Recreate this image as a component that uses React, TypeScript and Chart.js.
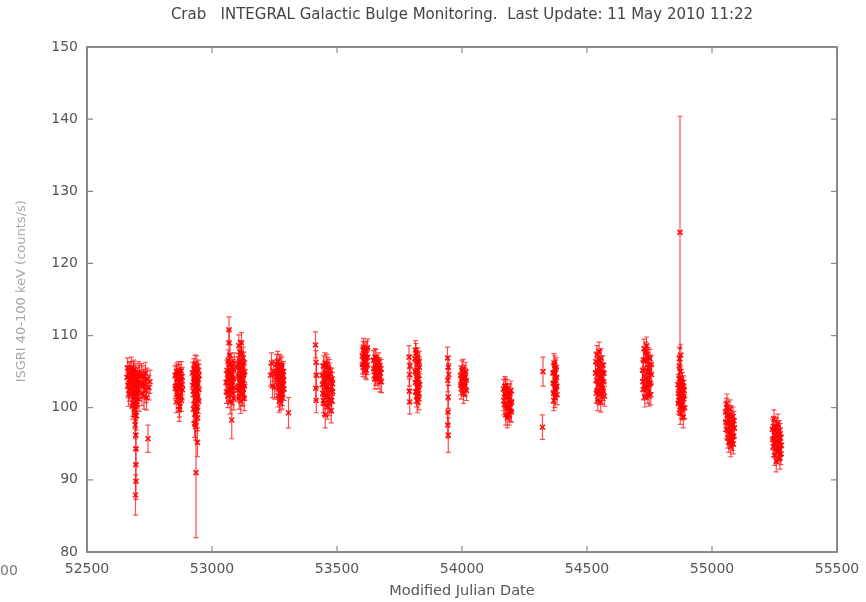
import React, { useEffect, useRef } from "react";
import { Chart, registerables } from "chart.js";

Chart.register(...registerables);

// [MJD, rate (counts/s), 1-sigma error]
type Obs = [number, number, number];

const TITLE = "Crab   INTEGRAL Galactic Bulge Monitoring.  Last Update: 11 May 2010 11:22";
const X_TITLE = "Modified Julian Date";
const Y_TITLE = "    ISGRI 40-100 keV (counts/s)";
const X_MIN = 52500;
const X_MAX = 55500;
const X_STEP = 500;
const Y_MIN = 80;
const Y_MAX = 150;
const Y_STEP = 10;
const STRAY_LABEL = "00";

const visit01: Obs[] = [
  [52660, 104.2, 1.6], [52664, 103.1, 1.7], [52668, 104.8, 1.5], [52670, 102.5, 1.6], [52673, 105.0, 1.4],
  [52675, 103.6, 1.5], [52678, 101.8, 1.7], [52680, 104.1, 1.5], [52682, 102.9, 1.6], [52684, 100.6, 1.8],
  [52686, 103.8, 1.5], [52688, 105.2, 1.4], [52689, 101.5, 1.7], [52691, 99.8, 1.9], [52692, 103.0, 1.6],
  [52694, 102.2, 1.6], [52695, 104.6, 1.5], [52696, 100.9, 1.8], [52697, 98.9, 2.0], [52698, 103.4, 1.5],
  [52700, 101.9, 1.7], [52702, 104.0, 1.6], [52704, 102.6, 1.6], [52706, 103.5, 1.5], [52708, 101.2, 1.7],
  [52710, 104.4, 1.5], [52693, 97.6, 1.9], [52695, 96.2, 2.0], [52696, 94.3, 2.1], [52695, 92.1, 2.4],
  [52696, 89.8, 2.5], [52694, 87.9, 2.8],
  [52662, 105.5, 1.4], [52666, 101.9, 1.7], [52672, 103.9, 1.5], [52677, 105.6, 1.4], [52681, 100.2, 1.8],
  [52685, 104.9, 1.5], [52687, 102.1, 1.6], [52690, 104.3, 1.5], [52699, 100.4, 1.8], [52703, 102.9, 1.6],
  [52707, 104.9, 1.5], [52692, 99.0, 1.9], [52694, 100.2, 1.8],
];
const visit02: Obs[] = [
  [52716, 103.4, 1.6], [52720, 102.0, 1.7], [52724, 104.3, 1.5], [52728, 101.6, 1.8], [52732, 103.7, 1.6],
  [52736, 102.4, 1.7], [52740, 104.0, 1.5], [52748, 102.8, 1.7], [52744, 95.7, 1.9],
  [52718, 104.6, 1.5], [52726, 103.0, 1.6], [52734, 104.8, 1.5], [52738, 101.4, 1.7], [52752, 103.6, 1.6],
];
const visit03: Obs[] = [
  [52852, 104.5, 1.3], [52855, 103.0, 1.4], [52858, 105.0, 1.2], [52861, 102.2, 1.4], [52864, 104.0, 1.3],
  [52866, 101.5, 1.5], [52868, 103.6, 1.3], [52871, 104.8, 1.2], [52873, 102.8, 1.4], [52876, 103.9, 1.3],
  [52878, 101.0, 1.5], [52880, 104.3, 1.3], [52882, 102.5, 1.4], [52870, 100.2, 1.5],
  [52853, 102.7, 1.4], [52857, 100.8, 1.5], [52860, 104.6, 1.3], [52863, 103.1, 1.4], [52867, 105.2, 1.2],
  [52874, 101.8, 1.4], [52877, 105.1, 1.3], [52881, 103.2, 1.4], [52869, 99.7, 1.6],
];
const visit04: Obs[] = [
  [52922, 104.8, 1.5], [52925, 102.3, 1.6], [52927, 105.4, 1.4], [52929, 100.5, 1.7], [52931, 103.5, 1.5],
  [52933, 99.2, 1.8], [52935, 104.1, 1.5], [52937, 101.4, 1.6], [52939, 105.8, 1.4], [52941, 102.8, 1.6],
  [52943, 98.6, 1.8], [52945, 103.9, 1.5], [52947, 100.9, 1.7], [52949, 104.5, 1.5], [52930, 97.8, 1.9],
  [52936, 101.9, 1.6], [52940, 103.0, 1.5], [52932, 106.0, 1.3], [52938, 99.6, 1.8], [52942, 95.2, 2.0],
  [52936, 91.0, 9.0],
  [52923, 103.1, 1.6], [52926, 99.8, 1.8], [52928, 104.0, 1.5], [52932, 102.0, 1.6], [52934, 105.0, 1.4],
  [52938, 103.3, 1.5], [52944, 101.6, 1.7], [52946, 105.2, 1.4], [52948, 102.5, 1.6], [52934, 97.4, 1.9],
  [52940, 100.0, 1.8],
];
const visit05: Obs[] = [
  [53056, 103.5, 1.5], [53060, 105.2, 1.4], [53063, 101.6, 1.6], [53066, 104.3, 1.5], [53068, 110.8, 1.8],
  [53068, 109.0, 1.8], [53069, 102.5, 1.6], [53071, 106.0, 1.4], [53073, 100.8, 1.7], [53075, 104.8, 1.5],
  [53077, 103.0, 1.5], [53079, 98.3, 2.6], [53080, 105.6, 1.4], [53083, 102.0, 1.6], [53085, 104.0, 1.5],
  [53087, 101.3, 1.6], [53089, 106.2, 1.4],
  [53058, 102.2, 1.6], [53062, 104.6, 1.5], [53065, 106.6, 1.4], [53070, 103.9, 1.5], [53074, 102.4, 1.6],
  [53078, 105.0, 1.5], [53082, 103.6, 1.5], [53086, 105.3, 1.4], [53088, 102.8, 1.6], [53072, 107.3, 1.4],
];
const visit06: Obs[] = [
  [53102, 105.5, 1.5], [53105, 103.0, 1.6], [53107, 108.6, 1.5], [53109, 101.5, 1.7], [53111, 106.4, 1.5],
  [53113, 104.0, 1.6], [53115, 100.9, 1.7], [53117, 107.5, 1.5], [53119, 103.4, 1.6], [53121, 105.8, 1.5],
  [53123, 102.0, 1.7], [53125, 106.9, 1.5], [53127, 104.6, 1.6], [53129, 101.3, 1.7], [53131, 105.0, 1.5],
  [53118, 109.0, 1.4],
  [53103, 102.4, 1.6], [53106, 106.0, 1.5], [53108, 104.5, 1.6], [53110, 102.8, 1.7], [53112, 107.8, 1.5],
  [53114, 105.2, 1.6], [53116, 103.7, 1.6], [53120, 101.9, 1.7], [53122, 104.4, 1.6], [53124, 103.4, 1.6],
  [53126, 102.6, 1.6], [53128, 106.2, 1.5], [53130, 103.0, 1.6],
];
const visit07: Obs[] = [
  [53234, 104.5, 1.5], [53238, 106.2, 1.4], [53242, 103.0, 1.6], [53246, 105.1, 1.5], [53250, 102.8, 1.6],
  [53254, 104.8, 1.5], [53258, 106.0, 1.4], [53262, 103.8, 1.5], [53264, 101.7, 1.6], [53266, 105.4, 1.4],
  [53268, 102.9, 1.5], [53270, 104.6, 1.5], [53272, 101.2, 1.6], [53274, 103.5, 1.5], [53276, 105.8, 1.4],
  [53278, 102.4, 1.6], [53280, 104.2, 1.5], [53282, 101.9, 1.6], [53284, 103.1, 1.5], [53286, 105.0, 1.4],
  [53288, 102.6, 1.6], [53306, 99.3, 2.1],
  [53260, 104.4, 1.5], [53263, 106.4, 1.4], [53267, 103.9, 1.5], [53271, 106.0, 1.4], [53275, 102.0, 1.6],
  [53279, 105.6, 1.4], [53283, 104.6, 1.5], [53287, 103.8, 1.5], [53269, 100.9, 1.6], [53281, 101.4, 1.6],
];
const visit08: Obs[] = [
  [53414, 108.7, 1.8], [53416, 106.3, 1.6], [53418, 104.5, 1.6], [53415, 102.7, 1.7], [53417, 101.0, 1.7],
  [53440, 104.5, 1.5], [53443, 102.0, 1.6], [53446, 105.8, 1.4], [53448, 100.6, 1.7], [53451, 103.5, 1.5],
  [53453, 99.0, 1.8], [53455, 104.9, 1.5], [53457, 101.8, 1.6], [53459, 106.0, 1.4], [53461, 103.0, 1.5],
  [53463, 100.1, 1.7], [53465, 104.2, 1.5], [53467, 102.6, 1.6], [53469, 105.3, 1.4], [53471, 101.2, 1.6],
  [53474, 103.8, 1.5], [53477, 99.6, 1.7], [53480, 104.0, 1.5], [53483, 102.2, 1.6],
  [53442, 103.2, 1.6], [53445, 101.0, 1.7], [53449, 104.0, 1.5], [53452, 106.2, 1.4], [53456, 102.9, 1.6],
  [53460, 101.5, 1.6], [53464, 105.6, 1.4], [53468, 100.6, 1.7], [53472, 104.7, 1.5], [53476, 102.4, 1.6],
  [53479, 101.0, 1.7], [53482, 103.3, 1.6],
];
const visit09: Obs[] = [
  [53601, 107.2, 1.2], [53604, 105.6, 1.3], [53606, 108.4, 1.2], [53609, 106.3, 1.3], [53611, 107.8, 1.2],
  [53614, 105.4, 1.3], [53616, 106.9, 1.2], [53619, 108.0, 1.2], [53621, 105.9, 1.3], [53623, 107.0, 1.2],
  [53602, 106.0, 1.3], [53607, 107.0, 1.2], [53612, 106.0, 1.3], [53617, 105.2, 1.3], [53622, 108.3, 1.2],
  [53605, 108.0, 1.2],
];
const visit10: Obs[] = [
  [53646, 106.6, 1.3], [53649, 105.0, 1.3], [53652, 107.0, 1.2], [53655, 104.4, 1.3], [53658, 106.0, 1.3],
  [53661, 105.3, 1.3], [53664, 104.0, 1.4], [53667, 106.3, 1.3], [53670, 105.6, 1.3], [53674, 104.8, 1.3],
  [53678, 103.6, 1.5],
  [53647, 105.4, 1.3], [53651, 104.0, 1.4], [53656, 106.8, 1.3], [53660, 104.6, 1.3], [53665, 105.6, 1.3],
  [53672, 103.6, 1.4], [53676, 105.4, 1.3],
];
const visit11: Obs[] = [
  [53788, 107.0, 1.6], [53790, 104.6, 1.6], [53789, 102.3, 1.7], [53792, 105.8, 1.5], [53791, 100.8, 1.7],
  [53812, 106.8, 1.4], [53814, 103.5, 1.5], [53816, 107.6, 1.3], [53818, 101.6, 1.5], [53820, 105.2, 1.4],
  [53822, 102.8, 1.5], [53824, 106.2, 1.4], [53826, 104.0, 1.4], [53828, 101.2, 1.5], [53830, 105.6, 1.4],
  [53819, 103.9, 1.4], [53823, 107.0, 1.3], [53827, 102.0, 1.5],
  [53813, 105.0, 1.4], [53815, 102.2, 1.5], [53817, 104.8, 1.4], [53821, 100.9, 1.6], [53825, 103.0, 1.5],
  [53829, 106.4, 1.4], [53831, 103.2, 1.5], [53814, 108.0, 1.3],
];
const visit12: Obs[] = [
  [53942, 106.9, 1.5], [53946, 105.6, 1.5], [53943, 103.8, 1.6], [53945, 101.5, 1.6], [53944, 99.4, 1.7],
  [53943, 97.6, 1.8], [53945, 96.2, 2.4], [53947, 104.6, 1.5],
];
const visit13: Obs[] = [
  [53994, 104.5, 1.3], [53997, 102.6, 1.4], [54000, 105.2, 1.3], [54003, 103.4, 1.3], [54006, 102.0, 1.4],
  [54009, 104.6, 1.3], [54012, 103.0, 1.4], [54015, 105.0, 1.3], [54018, 102.4, 1.4],
  [53995, 103.2, 1.4], [53999, 104.0, 1.3], [54004, 105.4, 1.3], [54008, 103.0, 1.4], [54013, 104.2, 1.3],
  [54017, 103.8, 1.3],
];
const visit14: Obs[] = [
  [54166, 102.6, 1.3], [54169, 100.4, 1.4], [54172, 103.0, 1.3], [54175, 99.0, 1.4], [54178, 101.5, 1.3],
  [54181, 98.6, 1.4], [54184, 102.0, 1.3], [54187, 100.0, 1.4], [54190, 101.0, 1.3], [54193, 99.5, 1.4],
  [54196, 102.4, 1.3], [54199, 100.8, 1.3],
  [54167, 101.0, 1.4], [54171, 101.9, 1.3], [54174, 102.8, 1.3], [54177, 100.2, 1.4], [54180, 102.6, 1.3],
  [54183, 100.0, 1.4], [54186, 101.6, 1.3], [54189, 99.0, 1.4], [54192, 102.0, 1.3], [54195, 100.6, 1.3],
  [54198, 99.4, 1.4],
];
const visit15: Obs[] = [
  [54324, 105.0, 2.0], [54322, 97.3, 1.7],
];
const visit16: Obs[] = [
  [54364, 104.8, 1.3], [54366, 102.0, 1.4], [54368, 106.2, 1.3], [54370, 103.3, 1.3], [54372, 101.4, 1.4],
  [54374, 105.3, 1.3], [54376, 102.8, 1.3], [54378, 104.2, 1.3], [54380, 101.8, 1.4], [54371, 105.9, 1.3],
  [54375, 103.8, 1.3],
  [54365, 103.4, 1.3], [54367, 101.0, 1.4], [54369, 104.9, 1.3], [54373, 102.5, 1.3], [54377, 105.6, 1.3],
  [54379, 103.0, 1.3],
];
const visit17: Obs[] = [
  [54534, 104.8, 1.3], [54537, 102.0, 1.4], [54540, 107.3, 1.3], [54543, 101.0, 1.4], [54546, 105.6, 1.3],
  [54549, 103.2, 1.3], [54552, 106.6, 1.3], [54555, 100.8, 1.4], [54558, 104.2, 1.3], [54561, 102.6, 1.3],
  [54564, 105.9, 1.3], [54567, 103.6, 1.3], [54570, 101.6, 1.4], [54548, 107.8, 1.3], [54557, 102.9, 1.3],
  [54535, 106.4, 1.3], [54538, 103.8, 1.3], [54541, 102.4, 1.4], [54544, 104.6, 1.3], [54547, 101.8, 1.4],
  [54550, 105.0, 1.3], [54553, 103.9, 1.3], [54556, 106.9, 1.3], [54559, 101.9, 1.4], [54562, 104.9, 1.3],
  [54565, 102.3, 1.3], [54568, 104.8, 1.3],
];
const visit18: Obs[] = [
  [54722, 105.2, 1.3], [54725, 102.5, 1.4], [54728, 108.2, 1.3], [54731, 101.5, 1.4], [54734, 106.5, 1.3],
  [54737, 104.0, 1.3], [54740, 107.4, 1.3], [54743, 102.0, 1.4], [54746, 105.6, 1.3], [54749, 103.2, 1.3],
  [54752, 106.8, 1.3], [54755, 101.8, 1.4], [54758, 104.6, 1.3], [54738, 108.6, 1.2], [54744, 103.8, 1.3],
  [54723, 103.6, 1.3], [54726, 106.6, 1.3], [54729, 104.4, 1.3], [54732, 103.0, 1.4], [54735, 107.8, 1.3],
  [54739, 102.6, 1.4], [54742, 105.0, 1.3], [54745, 107.0, 1.3], [54748, 101.6, 1.4], [54751, 104.9, 1.3],
  [54754, 103.4, 1.3], [54757, 106.0, 1.3],
];
const visit19: Obs[] = [
  [54872, 124.3, 16.1], [54870, 106.8, 1.6], [54873, 105.0, 1.5], [54864, 103.2, 1.4], [54867, 101.0, 1.5],
  [54870, 104.0, 1.4], [54873, 99.2, 1.5], [54876, 102.4, 1.4], [54879, 100.4, 1.5], [54882, 103.5, 1.4],
  [54885, 98.7, 1.5], [54888, 101.6, 1.4], [54891, 100.0, 1.5], [54866, 102.0, 1.4], [54878, 103.9, 1.4],
  [54884, 101.2, 1.4], [54875, 107.3, 1.5],
  [54865, 100.6, 1.5], [54868, 102.8, 1.4], [54871, 101.4, 1.5], [54874, 103.0, 1.4], [54877, 100.0, 1.5],
  [54880, 102.0, 1.4], [54883, 99.8, 1.5], [54886, 103.0, 1.4], [54889, 102.4, 1.4], [54869, 105.8, 1.5],
];
const visit20: Obs[] = [
  [55054, 99.4, 1.3], [55057, 97.0, 1.3], [55060, 100.6, 1.3], [55063, 95.8, 1.4], [55066, 98.4, 1.3],
  [55069, 96.4, 1.3], [55072, 99.8, 1.3], [55075, 94.6, 1.4], [55078, 97.6, 1.3], [55081, 95.4, 1.3],
  [55084, 98.8, 1.3], [55087, 96.0, 1.3], [55090, 97.2, 1.3],
  [55055, 98.0, 1.3], [55058, 100.0, 1.3], [55061, 97.8, 1.3], [55064, 99.0, 1.3], [55067, 95.2, 1.4],
  [55070, 98.0, 1.3], [55073, 96.8, 1.3], [55076, 99.0, 1.3], [55079, 96.0, 1.3], [55082, 97.6, 1.3],
  [55085, 95.0, 1.4], [55088, 98.2, 1.3],
];
const visit21: Obs[] = [
  [55242, 97.0, 1.4], [55245, 94.6, 1.4], [55248, 98.4, 1.3], [55251, 93.4, 1.4], [55254, 96.2, 1.4],
  [55257, 92.6, 1.5], [55260, 95.4, 1.4], [55263, 97.8, 1.3], [55266, 94.0, 1.4], [55269, 96.8, 1.4],
  [55272, 93.0, 1.5], [55275, 95.8, 1.4], [55278, 94.8, 1.4],
  [55243, 95.6, 1.4], [55246, 97.4, 1.4], [55249, 95.0, 1.4], [55252, 96.8, 1.4], [55255, 94.4, 1.4],
  [55258, 97.2, 1.4], [55261, 93.8, 1.5], [55264, 96.0, 1.4], [55267, 95.2, 1.4], [55270, 94.2, 1.5],
  [55273, 96.4, 1.4], [55276, 93.6, 1.5],
];

const VISITS: Obs[][] = [
  visit01, visit02, visit03, visit04, visit05, visit06, visit07, visit08, visit09, visit10, visit11,
  visit12, visit13, visit14, visit15, visit16, visit17, visit18, visit19, visit20, visit21,
];

const FONT = "'DejaVu Sans', sans-serif";
const RED = "rgba(255,0,0,0.92)";
const ERR_RED = "rgba(255,0,0,0.7)";
const FRAME = "#8a8a8a";

const errorBarPlugin = {
  id: "errorBars",
  beforeDatasetsDraw(chart: any) {
    const { ctx, chartArea, scales } = chart;
    const xs = scales.x;
    const ys = scales.y;
    ctx.save();
    ctx.beginPath();
    ctx.rect(chartArea.left, chartArea.top, chartArea.right - chartArea.left, chartArea.bottom - chartArea.top);
    ctx.clip();
    ctx.strokeStyle = ERR_RED;
    ctx.lineWidth = 1.2;
    const pts: Obs[] = chart.data.datasets[0].obs;
    for (const [m, r, e] of pts) {
      const px = xs.getPixelForValue(m);
      const lo = ys.getPixelForValue(r - e);
      const hi = ys.getPixelForValue(r + e);
      ctx.beginPath();
      ctx.moveTo(px, lo);
      ctx.lineTo(px, hi);
      ctx.moveTo(px - 2.5, lo);
      ctx.lineTo(px + 2.5, lo);
      ctx.moveTo(px - 2.5, hi);
      ctx.lineTo(px + 2.5, hi);
      ctx.stroke();
    }
    ctx.restore();
  },
};

const framePlugin = {
  id: "gnuFrame",
  afterDatasetsDraw(chart: any) {
    const { ctx, chartArea, scales } = chart;
    const { left, right, top, bottom } = chartArea;
    ctx.save();
    ctx.strokeStyle = FRAME;
    ctx.lineWidth = 2;
    ctx.strokeRect(left, top, right - left, bottom - top);
    ctx.lineWidth = 1.2;
    ctx.beginPath();
    for (const t of scales.x.ticks) {
      const px = scales.x.getPixelForValue(t.value);
      ctx.moveTo(px, bottom);
      ctx.lineTo(px, bottom - 6);
      ctx.moveTo(px, top);
      ctx.lineTo(px, top + 6);
    }
    for (const t of scales.y.ticks) {
      const py = scales.y.getPixelForValue(t.value);
      ctx.moveTo(left, py);
      ctx.lineTo(left + 6, py);
      ctx.moveTo(right, py);
      ctx.lineTo(right - 6, py);
    }
    ctx.stroke();
    ctx.restore();
  },
  afterDraw(chart: any) {
    const { ctx } = chart;
    ctx.save();
    ctx.fillStyle = "#777";
    ctx.font = `14px ${FONT}`;
    ctx.textAlign = "left";
    ctx.textBaseline = "middle";
    ctx.fillText(STRAY_LABEL, 0, 571);
    ctx.restore();
  },
};

export default function App() {
  const canvasRef = useRef<HTMLCanvasElement | null>(null);

  useEffect(() => {
    const canvas = canvasRef.current;
    if (!canvas) return;
    const obs: Obs[] = VISITS.flat();
    const chart = new Chart(canvas, {
      type: "scatter",
      data: {
        datasets: [
          {
            label: "Crab",
            data: obs.map(([m, r]) => ({ x: m, y: r })),
            obs,
            pointStyle: "crossRot",
            pointRadius: 3.5,
            pointHoverRadius: 3.5,
            borderColor: RED,
            backgroundColor: RED,
            borderWidth: 1.6,
          } as any,
        ],
      },
      options: {
        animation: false,
        responsive: false,
        maintainAspectRatio: false,
        events: [],
        layout: { padding: { left: 0, right: 29, top: 0, bottom: 0 } },
        plugins: {
          legend: { display: false },
          tooltip: { enabled: false },
          title: {
            display: true,
            fullSize: false,
            text: TITLE,
            color: "#444",
            font: { family: FONT, size: 15, weight: "normal" },
            padding: { top: 6, bottom: 23 },
          },
        },
        scales: {
          x: {
            type: "linear",
            min: X_MIN,
            max: X_MAX,
            grid: { display: false, drawTicks: false },
            border: { display: false },
            ticks: {
              stepSize: X_STEP,
              color: "#555",
              padding: 9,
              font: { family: FONT, size: 14 },
              callback: (v: any) => String(v),
              maxRotation: 0,
              autoSkip: false,
            },
            title: {
              display: true,
              text: X_TITLE,
              color: "#555",
              font: { family: FONT, size: 14.5 },
              padding: { top: 0, bottom: 2.5 },
            },
            afterFit: (s: any) => {
              s.height = 50;
              s.paddingLeft = 0;
              s.paddingRight = 0;
            },
          },
          y: {
            type: "linear",
            min: Y_MIN,
            max: Y_MAX,
            grid: { display: false, drawTicks: false },
            border: { display: false },
            ticks: {
              stepSize: Y_STEP,
              color: "#555",
              padding: 9,
              font: { family: FONT, size: 14 },
              callback: (v: any) => String(v),
            },
            title: {
              display: true,
              text: Y_TITLE,
              color: "#a8a8a8",
              font: { family: FONT, size: 13 },
              padding: { top: 14, bottom: 0 },
            },
            afterFit: (s: any) => {
              s.width = 87;
              s.paddingTop = 0;
              s.paddingBottom = 0;
            },
          },
        },
      },
      plugins: [errorBarPlugin, framePlugin],
    });
    return () => chart.destroy();
  }, []);

  return (
    <div style={{ position: "absolute", left: 0, top: 0, width: 866, height: 602, background: "#fff" }}>
      <canvas ref={canvasRef} width={866} height={602} style={{ display: "block", width: 866, height: 602 }} />
    </div>
  );
}
